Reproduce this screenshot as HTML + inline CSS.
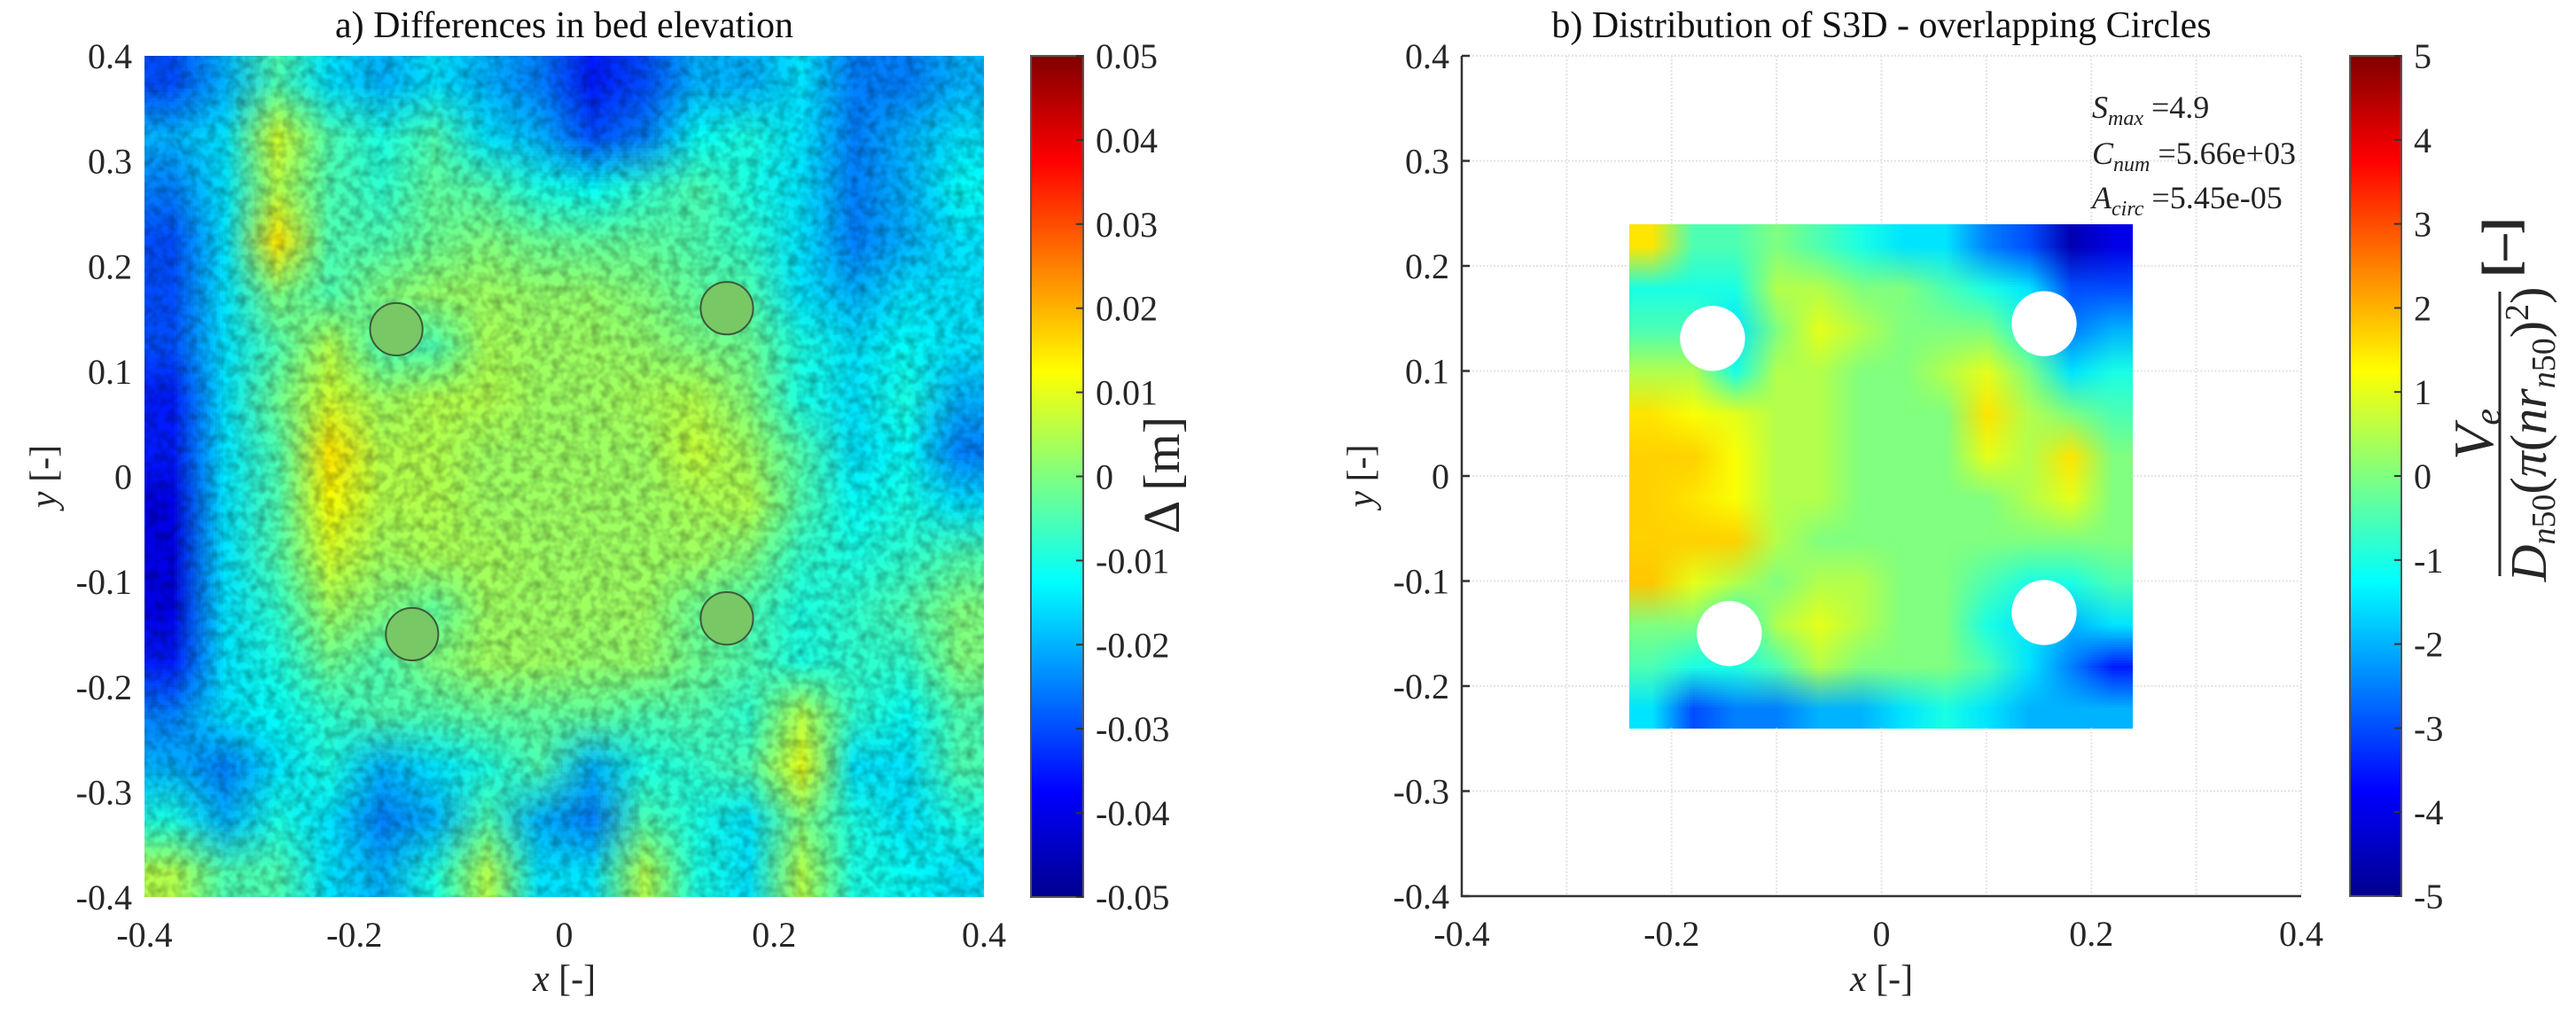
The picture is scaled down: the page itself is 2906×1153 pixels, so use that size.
<!DOCTYPE html>
<html><head><meta charset="utf-8">
<style>
body{margin:0;background:#fff;width:2906px;height:1153px;position:relative;overflow:hidden;font-family:"Liberation Serif",serif;}
canvas{position:absolute;image-rendering:auto;}
svg{position:absolute;left:0;top:0;}
</style></head><body>
<canvas id="ca" width="16" height="16" style="left:163px;top:63px;width:947px;height:949px"></canvas>
<canvas id="cb" width="12" height="12" style="left:1838px;top:253px;width:568px;height:569px"></canvas>
<svg id="s" width="2906" height="1153">
<defs>
<filter id="noise" x="0" y="0" width="100%" height="100%">
<feTurbulence type="fractalNoise" baseFrequency="0.09" numOctaves="2" seed="3"/>
<feColorMatrix type="matrix" values="0 0 0 0 0  0 0 0 0 0  0 0 0 0 0  0 0 0 -1.6 1.05"/>
</filter>
<linearGradient id="jet" x1="0" y1="1" x2="0" y2="0">
<stop offset="0" stop-color="#00008f"/><stop offset="0.125" stop-color="#0000ff"/><stop offset="0.375" stop-color="#00ffff"/><stop offset="0.625" stop-color="#ffff00"/><stop offset="0.875" stop-color="#ff0000"/><stop offset="1" stop-color="#800000"/>
</linearGradient>
</defs>
</svg>
<script>
// Panel a data (mm, rows top y=0.375 to bottom y=-0.375, cols x=-0.375..0.375)
const aRow0=[-30,-20,-5,-15,-20,-15,-20,-25,-35,-30,-20,-20,-15,-25,-25,-20];
const aRow1=[-20,-15,8,-5,-10,-5,-15,-20,-30,-25,-12,-10,-15,-25,-20,-15];
const aRow2=[-25,-15,5,-5,-8,-3,-5,-10,-12,-8,-5,-10,-15,-25,-20,-12];
const aRow3=[-30,-15,15,-5,-5,-2,0,-2,-3,-3,-5,-8,-15,-25,-20,-15];
const aRow4=[-30,-15,0,-5,0,2,3,2,2,0,-3,-5,-15,-20,-15,-15];
const aRow5=[-30,-15,-5,5,-5,-5,4,3,3,2,0,-2,-10,-15,-12,-15];
const aRow6=[-35,-15,-2,8,3,5,5,3,3,4,5,0,-10,-15,-10,-20];
const aRow7=[-35,-15,-5,15,5,5,3,3,3,3,7,3,-5,-15,-12,-25];
const aRow8=[-40,-15,-5,12,5,5,3,3,3,3,4,5,-5,-12,-10,-15];
const aRow9=[-40,-15,-5,8,3,4,4,3,3,3,3,0,-8,-10,-8,-5];
const aRow10=[-40,-15,-8,3,0,-3,3,3,3,3,-2,-5,-10,-8,-5,0];
const aRow11=[-35,-15,-10,-2,-5,0,3,3,2,2,-2,-5,-10,-8,-8,0];
const aRow12=[-25,-15,-12,-8,-5,-5,-3,-3,-3,-5,-5,-8,5,-8,-12,-5];
const aRow13=[-20,-25,-15,-10,-20,-15,-10,-5,-20,-10,-8,-5,10,-15,-15,-5];
const aRow14=[-10,-20,-10,-15,-25,-20,-5,-20,-25,-5,-10,-15,0,-10,-15,-10];
const aRow15=[5,-5,-5,-15,-20,-10,5,-15,-15,5,-10,-15,5,-10,-12,-15];
const aRows=[aRow0,aRow1,aRow2,aRow3,aRow4,aRow5,aRow6,aRow7,aRow8,aRow9,aRow10,aRow11,aRow12,aRow13,aRow14,aRow15];
const aPilesX=[-0.16,0.155,-0.145,0.155];
const aPilesY=[0.14,0.16,-0.15,-0.135];
// Panel b data (rows y=0.22..-0.22, cols x=-0.22..0.22)
const bRow0=[1.5,-0.5,-0.5,0,-0.5,-1,-1.5,-1.5,-2.5,-3,-4.5,-4];
const bRow1=[-1,-1,-1,0.5,0.5,0,0,-0.5,-1,-1.5,-3,-3];
const bRow2=[-0.5,-0.5,-1.5,0,1,0.5,0,0,0,-1,-2.5,-2];
const bRow3=[0.5,0.5,-1,0.5,0.5,0,0,0.5,1,0,-1.5,-1];
const bRow4=[1.5,1.2,1,0.5,0.5,0,0,0,1.5,0.5,0,-0.5];
const bRow5=[1.7,1.7,1.2,0.5,0.5,0,0,0,1,0.5,1.5,0];
const bRow6=[1.7,1.5,1.2,0.5,0.5,0,0,0,0,0.5,1,0];
const bRow7=[1.7,1.7,1.7,0.5,0,0,0,0,0,0,0,0];
const bRow8=[1.8,1,0.5,0,0.5,0.5,0,0,-0.5,-1,-1,-0.5];
const bRow9=[0,0,-1,0.5,1,0.5,0,0,-1,-1.5,-2,-1.5];
const bRow10=[-0.5,-1,-1,-0.5,0.5,0,0,0,-0.5,-1.5,-2.5,-3.5];
const bRow11=[-1.5,-3,-2.5,-2.5,-2,-2,-1.5,-1,-1.5,-2,-2,-2];
const bRows=[bRow0,bRow1,bRow2,bRow3,bRow4,bRow5,bRow6,bRow7,bRow8,bRow9,bRow10,bRow11];
const bHolesX=[-0.161,0.155,-0.145,0.155];
const bHolesY=[0.131,0.145,-0.15,-0.13];
const axTicks=[-0.4,-0.3,-0.2,-0.1,0,0.1,0.2,0.3,0.4];
const axXTicks=[-0.4,-0.2,0,0.2,0.4];
const cbATicks=[-0.05,-0.04,-0.03,-0.02,-0.01,0,0.01,0.02,0.03,0.04,0.05];
const cbBTicks=[-5,-4,-3,-2,-1,0,1,2,3,4,5];

function jet(t){t=Math.max(0,Math.min(1,t));
 const c=x=>Math.max(0,Math.min(1,x));
 return [c(1.5-Math.abs(4*t-3)),c(1.5-Math.abs(4*t-2)),c(1.5-Math.abs(4*t-1))].map(v=>Math.round(v*255));}
function paint(id,rows,lo,hi){const cv=document.getElementById(id),ctx=cv.getContext('2d');
 const img=ctx.createImageData(cv.width,cv.height);
 rows.forEach((r,j)=>r.forEach((v,i)=>{const c=jet((v-lo)/(hi-lo));const k=(j*cv.width+i)*4;img.data[k]=c[0];img.data[k+1]=c[1];img.data[k+2]=c[2];img.data[k+3]=255;}));
 ctx.putImageData(img,0,0);}
paint('ca',aRows,-50,50);
paint('cb',bRows,-5,5);

const NS='http://www.w3.org/2000/svg',S=document.getElementById('s');
function el(tag,at,txt){const e=document.createElementNS(NS,tag);for(const k in at)e.setAttribute(k,at[k]);if(txt!==undefined)e.textContent=txt;S.appendChild(e);return e;}
function fmt(v){return (Math.round(v*100)/100).toString();}

const panels=[{L:163,T:63,W:947,H:949,cb:1163,cbw:59,grid:false,title:'a) Differences in bed elevation',name:'a'},
 {L:1649,T:63,W:947,H:948,cb:2651,cbw:58,grid:true,title:'b) Distribution of S3D - overlapping Circles',name:'b'}];
panels.forEach(p=>{
 const sx=v=>p.L+(v+0.4)/0.8*p.W, sy=v=>p.T+(0.4-v)/0.8*p.H;
 if(p.name==='a'){
  let n=el('rect',{x:p.L,y:p.T,width:p.W,height:p.H,filter:'url(#noise)',opacity:0.35});
  
  
  aPilesX.forEach((x,i)=>{let c=el('circle',{cx:sx(x),cy:sy(aPilesY[i]),r:0.025/0.8*p.W,fill:'#78c866',stroke:'#3d5a3a','stroke-width':2});
   
   });
 } else {
  bHolesX.forEach((x,i)=>{let c=el('circle',{cx:sx(x),cy:sy(bHolesY[i]),r:0.031/0.8*p.W,fill:'#fff'});
   
   });
  const e0=-0.24,e1=0.24;
  axTicks.forEach(t=>{
   const segs=(t>e0&&t<e1)?[[-0.4,e0],[e1,0.4]]:[[-0.4,0.4]];
   segs.forEach(s=>{
    let g1=el('line',{x1:sx(t),x2:sx(t),y1:sy(s[1]),y2:sy(s[0]),stroke:'#e3e3e3','stroke-width':2,'stroke-dasharray':'2 2'});
    
    
    let g2=el('line',{x1:sx(s[0]),x2:sx(s[1]),y1:sy(t),y2:sy(t),stroke:'#e3e3e3','stroke-width':2,'stroke-dasharray':'2 2'});
    
    });});
  const tx=el('text',{x:2360,y:133,'font-size':36,'font-style':'italic',fill:'#222'});
  tx.innerHTML='S<tspan font-size="24" dy="8">max</tspan><tspan font-style="normal" dy="-8"> =4.9</tspan>';
  
  
  const t2=el('text',{x:2360,y:185,'font-size':36,'font-style':'italic',fill:'#222'});
  t2.innerHTML='C<tspan font-size="24" dy="8">num</tspan><tspan font-style="normal" dy="-8"> =5.66e+03</tspan>';
  
  
  const t3=el('text',{x:2360,y:235,'font-size':36,'font-style':'italic',fill:'#222'});
  t3.innerHTML='A<tspan font-size="24" dy="8">circ</tspan><tspan font-style="normal" dy="-8"> =5.45e-05</tspan>';
  
  
  let ax=el('path',{d:`M${p.L} ${p.T} V${p.T+p.H} H${p.L+p.W}`,fill:'none',stroke:'#333','stroke-width':2.5});
  
  
 }
 axTicks.forEach(t=>{let lb=el('text',{x:p.L-14,y:sy(t)+14,'text-anchor':'end','font-size':40,fill:'#262626'},fmt(t));
  
  
  if(p.grid){let tk=el('line',{x1:p.L,x2:p.L+9,y1:sy(t),y2:sy(t),stroke:'#333','stroke-width':2.5});
   
   }});
 axXTicks.forEach(t=>{let lb=el('text',{x:sx(t),y:p.T+p.H+56,'text-anchor':'middle','font-size':40,fill:'#262626'},fmt(t));
  
  });
 let ti=el('text',{x:p.L+p.W/2,y:42,'text-anchor':'middle','font-size':42,fill:'#111'},p.title);
 
 
 let xl=el('text',{x:p.L+p.W/2,y:1118,'text-anchor':'middle','font-size':42,fill:'#262626'});
 xl.innerHTML='<tspan font-style="italic">x</tspan> [-]';
 
 
 let yl=el('text',{x:0,y:0,'text-anchor':'middle','font-size':42,fill:'#262626',transform:`translate(${p.L-100},${p.T+p.H/2}) rotate(-90)`});
 yl.innerHTML='<tspan font-style="italic">y</tspan> [-]';
 
 
 let cb=el('rect',{x:p.cb,y:p.T,width:p.cbw,height:p.H,fill:'url(#jet)',stroke:'#555','stroke-width':2});
 
 
 const ticks=p.name==='a'?cbATicks:cbBTicks, lo=ticks[0], hi=ticks[ticks.length-1];
 ticks.forEach(t=>{const y=p.T+(hi-t)/(hi-lo)*p.H;
  let tk=el('line',{x1:p.cb+p.cbw-8,x2:p.cb+p.cbw,y1:y,y2:y,stroke:'#333','stroke-width':2});
  
  
  let lb=el('text',{x:p.cb+p.cbw+14,y:y+14,'font-size':40,fill:'#262626'},p.name==='a'?fmt(t):String(t));
  
  });
});
let cla=el('text',{x:0,y:0,'text-anchor':'middle','font-size':58,fill:'#262626',transform:'translate(1330,536) rotate(-90)'},'Δ [m]');


let clb1=el('text',{x:0,y:0,'text-anchor':'middle','font-size':58,'font-weight':'bold',fill:'#262626',transform:'translate(2840,279) rotate(-90)'},'[–]');


let fl=el('line',{x1:2820,x2:2820,y1:329,y2:650,stroke:'#262626','stroke-width':3});


let num=el('text',{x:0,y:0,'text-anchor':'middle','font-size':64,'font-style':'italic',fill:'#262626',transform:'translate(2812,490) rotate(-90)'});
num.innerHTML='V<tspan font-size="42" dy="8">e</tspan>';


let den=el('text',{x:0,y:0,'text-anchor':'middle','font-size':58,fill:'#262626',transform:'translate(2872,490) rotate(-90)'});
den.innerHTML='<tspan font-style="italic">D</tspan><tspan font-size="38" font-style="italic" dy="10">n</tspan><tspan font-size="38" dy="0">50</tspan><tspan dy="-10">(</tspan><tspan font-style="italic">π</tspan>(<tspan font-style="italic">nr</tspan><tspan font-size="38" font-style="italic" dy="10">n</tspan><tspan font-size="38">50</tspan><tspan dy="-10">)</tspan><tspan font-size="38" dy="-20">2</tspan><tspan dy="20">)</tspan>';


</script>
</body></html>
